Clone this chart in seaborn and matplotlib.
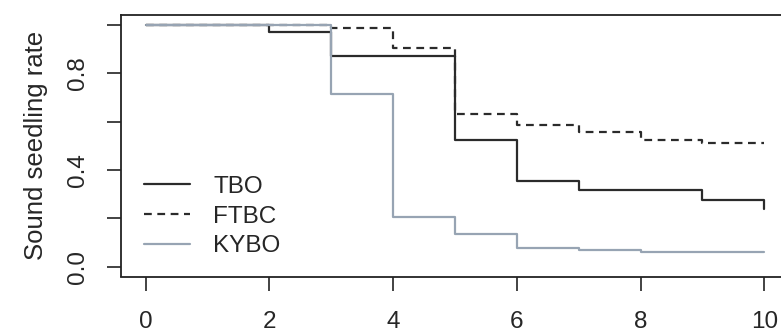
import matplotlib
matplotlib.use("Agg")
import matplotlib.pyplot as plt
import seaborn as sns
import pandas as pd

sns.set_style("white")
plt.rcParams['font.family'] = ['Liberation Sans', 'DejaVu Sans']

series_names = ["TBO", "FTBC", "KYBO"]
tbo_time = [0, 2, 3, 5, 6, 7, 9, 10]
tbo_rate = [1.0, 0.968, 0.869, 0.525, 0.355, 0.317, 0.277, 0.237]
ftbc_time = [0, 3, 4, 5, 6, 7, 8, 9, 10]
ftbc_rate = [1.0, 0.986, 0.902, 0.630, 0.585, 0.557, 0.524, 0.512, 0.512]
kybo_time = [0, 3, 4, 5, 6, 7, 8, 10]
kybo_rate = [1.0, 0.713, 0.206, 0.134, 0.076, 0.069, 0.062, 0.062]
x_ticks = [0, 2, 4, 6, 8, 10]
y_ticks = [0.0, 0.2, 0.4, 0.6, 0.8, 1.0]
y_labels = ["0.0", "", "0.4", "", "0.8", ""]
ylabel = "Sound seedling rate"

fig = plt.figure(figsize=(7.81, 3.34), dpi=100)
ax = fig.add_axes([121/781, (334-276.5)/334, (789-121)/781, (276.5-15)/334])

styles = [
    dict(color="#2b2b2b", linestyle="-"),
    dict(color="#2b2b2b", linestyle=(0, (3.5, 2.5))),
    dict(color="#97a4b3", linestyle="-"),
]
for name, t, r, st in zip(series_names, [tbo_time, ftbc_time, kybo_time],
                          [tbo_rate, ftbc_rate, kybo_rate], styles):
    df = pd.DataFrame({"time": t, "rate": r})
    sns.lineplot(data=df, x="time", y="rate", ax=ax, drawstyle="steps-post",
                 linewidth=1.6, label=name, errorbar=None, **st)

ax.set_xlim(-0.4, 10.4)
ax.set_ylim(-0.04, 1.04)
ax.set_xticks(x_ticks)
ax.set_xticklabels([str(v) for v in x_ticks])
ax.set_yticks(y_ticks)
ax.set_yticklabels(y_labels, rotation=90, va="center")
ax.tick_params(axis="both", direction="out", length=10, width=1.2, color="#222222",
               labelsize=17.5, left=True, bottom=True)
ax.tick_params(axis="x", pad=15)
ax.tick_params(axis="y", pad=13)
ax.set_xlabel("")
ax.set_ylabel(ylabel, fontsize=18.5, labelpad=14)
for s in ax.spines.values():
    s.set_visible(True)
    s.set_color("#222222")
    s.set_linewidth(1.3)

ax.legend(loc="upper left", bbox_to_anchor=(0.009, 0.45), frameon=False,
          fontsize=17.5, handlelength=1.9, handletextpad=0.95, labelspacing=0.32,
          borderaxespad=0.3)

fig.savefig("out.png", dpi=100)
